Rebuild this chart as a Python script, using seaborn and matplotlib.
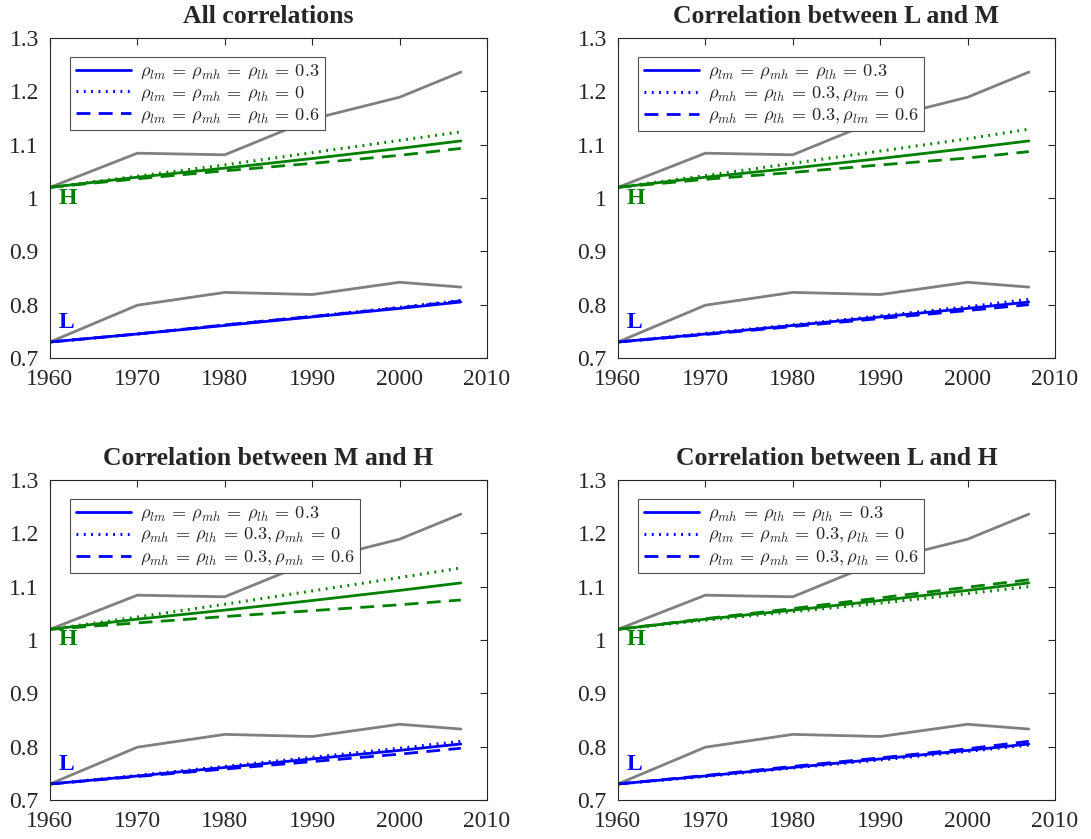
import numpy as np
import matplotlib
matplotlib.use('Agg')
import matplotlib.pyplot as plt
import seaborn as sns
from matplotlib.ticker import FormatStrFormatter

# Data
years = [1960, 1970, 1980, 1990, 2000, 2007]
data_h = [1.020, 1.084, 1.081, 1.148, 1.189, 1.236]
data_l = [0.730, 0.799, 0.823, 0.819, 0.842, 0.833]

# baseline model (all correlations 0.3), same in each panel
base_h = [1.020, 1.039, 1.056, 1.074, 1.093, 1.107]
base_l = [0.730, 0.745, 0.761, 0.777, 0.793, 0.805]

# panel 1: all correlations
all_h_zero = [1.020, 1.041, 1.062, 1.085, 1.108, 1.124]
all_h_high = [1.020, 1.036, 1.051, 1.065, 1.080, 1.093]
all_l_zero = [0.730, 0.745, 0.762, 0.778, 0.795, 0.808]
all_l_high = [0.730, 0.745, 0.762, 0.778, 0.794, 0.807]

# panel 2: L and M
lm_h_zero = [1.020, 1.042, 1.065, 1.088, 1.111, 1.129]
lm_h_high = [1.020, 1.035, 1.048, 1.062, 1.075, 1.087]
lm_l_zero = [0.730, 0.746, 0.762, 0.779, 0.796, 0.810]
lm_l_high = [0.730, 0.744, 0.759, 0.774, 0.789, 0.800]

# panel 3: M and H
mh_h_zero = [1.020, 1.043, 1.067, 1.092, 1.117, 1.135]
mh_h_high = [1.020, 1.032, 1.044, 1.055, 1.066, 1.075]
mh_l_zero = [0.730, 0.746, 0.763, 0.780, 0.797, 0.810]
mh_l_high = [0.730, 0.744, 0.758, 0.772, 0.786, 0.797]

# panel 4: L and H
lh_h_zero = [1.020, 1.037, 1.053, 1.069, 1.087, 1.100]
lh_h_high = [1.020, 1.040, 1.059, 1.079, 1.099, 1.113]
lh_l_zero = [0.730, 0.744, 0.760, 0.775, 0.791, 0.803]
lh_l_high = [0.730, 0.746, 0.763, 0.779, 0.796, 0.810]

titles = ["All correlations", "Correlation between L and M",
          "Correlation between M and H", "Correlation between L and H"]

legends = [
    [r"$\rho_{lm}\,=\,\rho_{mh}\,=\,\rho_{lh}\,=\,0.3$",
     r"$\rho_{lm}\,=\,\rho_{mh}\,=\,\rho_{lh}\,=\,0$",
     r"$\rho_{lm}\,=\,\rho_{mh}\,=\,\rho_{lh}\,=\,0.6$"],
    [r"$\rho_{lm}\,=\,\rho_{mh}\,=\,\rho_{lh}\,=\,0.3$",
     r"$\rho_{mh}\,=\,\rho_{lh}\,=\,0.3,\rho_{lm}\,=\,0$",
     r"$\rho_{mh}\,=\,\rho_{lh}\,=\,0.3,\rho_{lm}\,=\,0.6$"],
    [r"$\rho_{lm}\,=\,\rho_{mh}\,=\,\rho_{lh}\,=\,0.3$",
     r"$\rho_{mh}\,=\,\rho_{lh}\,=\,0.3,\rho_{mh}\,=\,0$",
     r"$\rho_{mh}\,=\,\rho_{lh}\,=\,0.3,\rho_{mh}\,=\,0.6$"],
    [r"$\rho_{mh}\,=\,\rho_{lh}\,=\,\rho_{lh}\,=\,0.3$",
     r"$\rho_{lm}\,=\,\rho_{mh}\,=\,0.3,\rho_{lh}\,=\,0$",
     r"$\rho_{lm}\,=\,\rho_{mh}\,=\,0.3,\rho_{lh}\,=\,0.6$"],
]

panels = [
    (all_h_zero, all_h_high, all_l_zero, all_l_high),
    (lm_h_zero, lm_h_high, lm_l_zero, lm_l_high),
    (mh_h_zero, mh_h_high, mh_l_zero, mh_l_high),
    (lh_h_zero, lh_h_high, lh_l_zero, lh_l_high),
]

sns.set_theme(style="white")
plt.rcParams['font.family'] = ['Liberation Serif', 'DejaVu Serif']
plt.rcParams['mathtext.fontset'] = 'cm'

GRAY = "#808080"
GREEN = "#008000"
BLUE = "#0000FF"
AX = "#262626"
DOT = (0, (0.6, 1.8))
DASH = (0, (5, 3))

fig = plt.figure(figsize=(10.91, 8.39), dpi=100)
positions = [
    [0.0458, 0.5733, 0.4006, 0.3814],
    [0.5664, 0.5733, 0.4006, 0.3814],
    [0.0458, 0.0465, 0.4006, 0.3814],
    [0.5664, 0.0465, 0.4006, 0.3814],
]

for i, pos in enumerate(positions):
    ax = fig.add_axes(pos)
    h_zero, h_high, l_zero, l_high = panels[i]

    sns.lineplot(x=years, y=data_h, ax=ax, color=GRAY, linewidth=2)
    sns.lineplot(x=years, y=data_l, ax=ax, color=GRAY, linewidth=2)

    sns.lineplot(x=years, y=base_h, ax=ax, color=GREEN, linewidth=2)
    sns.lineplot(x=years, y=h_zero, ax=ax, color=GREEN, linewidth=2.2, linestyle=DOT)
    sns.lineplot(x=years, y=h_high, ax=ax, color=GREEN, linewidth=2, linestyle=DASH)

    l1 = sns.lineplot(x=years, y=base_l, ax=ax, color=BLUE, linewidth=2).lines[-1]
    l2 = sns.lineplot(x=years, y=l_zero, ax=ax, color=BLUE, linewidth=2.2, linestyle=DOT).lines[-1]
    l3 = sns.lineplot(x=years, y=l_high, ax=ax, color=BLUE, linewidth=2, linestyle=DASH).lines[-1]

    ax.text(1961.0, 1.0, "H", color=GREEN, fontsize=17, fontweight="bold",
            ha="left", va="center")
    ax.text(1961.0, 0.767, "L", color=BLUE, fontsize=17, fontweight="bold",
            ha="left", va="center")

    ax.set_xlim(1960, 2010)
    ax.set_ylim(0.7, 1.3)
    ax.set_xticks(range(1960, 2011, 10))
    ax.set_yticks(np.arange(0.7, 1.31, 0.1))
    ax.yaxis.set_major_formatter(FormatStrFormatter('%g'))
    ax.tick_params(direction="in", length=5, width=0.8, top=True, right=True,
                   labelsize=17, colors=AX)
    ax.tick_params(axis="x", pad=8)
    ax.tick_params(axis="y", pad=8)
    for s in ax.spines.values():
        s.set_color(AX)
        s.set_linewidth(0.8)

    ax.set_title(titles[i], fontsize=18.5, fontweight="bold", pad=11)

    leg = ax.legend([l1, l2, l3], legends[i], loc="upper left",
                    bbox_to_anchor=(0.046, 0.94), fontsize=13.2,
                    fancybox=False, framealpha=1, edgecolor="#505050",
                    handlelength=3.0, handletextpad=0.5, borderpad=0.3,
                    labelspacing=0.18, borderaxespad=0)
    leg.get_frame().set_linewidth(0.8)

plt.savefig("out.png", dpi=100)
plt.close()
